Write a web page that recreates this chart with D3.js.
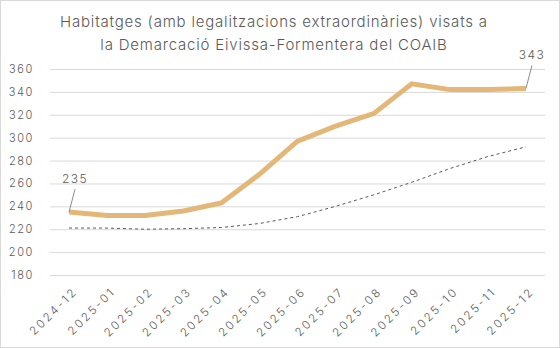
<!DOCTYPE html>
<html>
<head>
<meta charset="utf-8">
<script src="https://cdn.jsdelivr.net/npm/d3@7"></script>
<style>
  body { margin: 0; background: #fff; }
  svg { display: block; font-family: Inter, "Open Sans", sans-serif; }
</style>
</head>
<body>
<svg width="560" height="348"></svg>
<script>
let months = ["2024-12", "2025-01", "2025-02", "2025-03", "2025-04", "2025-05", "2025-06",
              "2025-07", "2025-08", "2025-09", "2025-10", "2025-11", "2025-12"];
let visats = [235, 232, 232, 236, 243, 268, 297, 310, 321, 347, 342, 342, 343];
let tendencia = [221, 221, 220, 220.5, 221.5, 225, 231, 240, 250, 261, 273, 283.5, 292];
let yTicks = [180, 200, 220, 240, 260, 280, 300, 320, 340, 360];
let titleLines = ["Habitatges (amb legalitzacions extraordinàries) visats a",
                  "la Demarcació Eivissa-Formentera del COAIB"];

let svg = d3.select("svg"),
    width = +svg.attr("width"),
    height = +svg.attr("height"),
    margin = {top: 69, right: 15, bottom: 73, left: 50};

svg.append("rect")
  .attr("x", 0.5).attr("y", 0.5)
  .attr("width", width - 1).attr("height", height - 1)
  .attr("fill", "#fff").attr("stroke", "#d9d9d9");

let x = d3.scaleBand().domain(months).range([margin.left, width - margin.right]);
let y = d3.scaleLinear().domain([180, 360]).range([height - margin.bottom, margin.top]);

// title
svg.append("g").selectAll("text")
  .data(titleLines)
  .enter().append("text")
  .attr("x", 274)
  .attr("y", (d, i) => 27 + i * 23)
  .attr("text-anchor", "middle")
  .attr("fill", "#595959")
  .attr("font-size", 15)
  .attr("font-weight", 300)
  .attr("letter-spacing", "0.8px")
  .text(d => d);

// y axis + grid
let yAxis = svg.append("g")
  .attr("transform", "translate(" + margin.left + ",0)")
  .call(d3.axisLeft(y).tickValues(yTicks).tickSize(-(width - margin.left - margin.right)).tickPadding(16));
yAxis.select(".domain").remove();
yAxis.selectAll("line").attr("stroke", "#d9d9d9");
yAxis.selectAll("text").attr("fill", "#595959").attr("font-size", 11).attr("letter-spacing", "1.6px")
  .attr("font-family", "Inter, sans-serif").attr("font-weight", 300);

// x axis
let xAxis = svg.append("g")
  .attr("transform", "translate(0," + (height - margin.bottom) + ")")
  .call(d3.axisBottom(x).tickSize(0).tickPadding(8));
xAxis.select(".domain").remove();
xAxis.selectAll("text")
  .attr("fill", "#595959").attr("font-size", 11.5).attr("letter-spacing", "2.4px")
  .attr("font-family", "Inter, sans-serif").attr("font-weight", 300)
  .attr("text-anchor", "end")
  .attr("dy", "0.3em")
  .attr("transform", "translate(1,9) rotate(-45)");

let cx = (d, i) => x(months[i]) + x.bandwidth() / 2;

// trend line
svg.append("path")
  .datum(tendencia)
  .attr("fill", "none")
  .attr("stroke", "#595959")
  .attr("stroke-width", 1)
  .attr("stroke-dasharray", "3,3")
  .attr("d", d3.line().x(cx).y(d => y(d)));

// main line
svg.append("path")
  .datum(visats)
  .attr("fill", "none")
  .attr("stroke", "#e3b778")
  .attr("stroke-width", 5)
  .attr("stroke-linejoin", "miter")
  .attr("d", d3.line().x(cx).y(d => y(d)));

// labels for first and last values
let ends = [0, visats.length - 1];
let lbl = svg.append("g").selectAll("g")
  .data(ends)
  .enter().append("g");
lbl.append("line")
  .attr("x1", i => cx(null, i))
  .attr("y1", i => y(visats[i]))
  .attr("x2", i => cx(null, i) + 6)
  .attr("y2", i => y(visats[i]) - 23)
  .attr("stroke", "#8c8c8c")
  .attr("stroke-width", 1);
lbl.append("text")
  .attr("x", i => cx(null, i) + 6)
  .attr("y", i => y(visats[i]) - 29)
  .attr("text-anchor", "middle")
  .attr("fill", "#595959")
  .attr("font-size", 12)
  .attr("letter-spacing", "1.4px")
  .attr("font-weight", 300)
  .text(i => visats[i]);
</script>
</body>
</html>
